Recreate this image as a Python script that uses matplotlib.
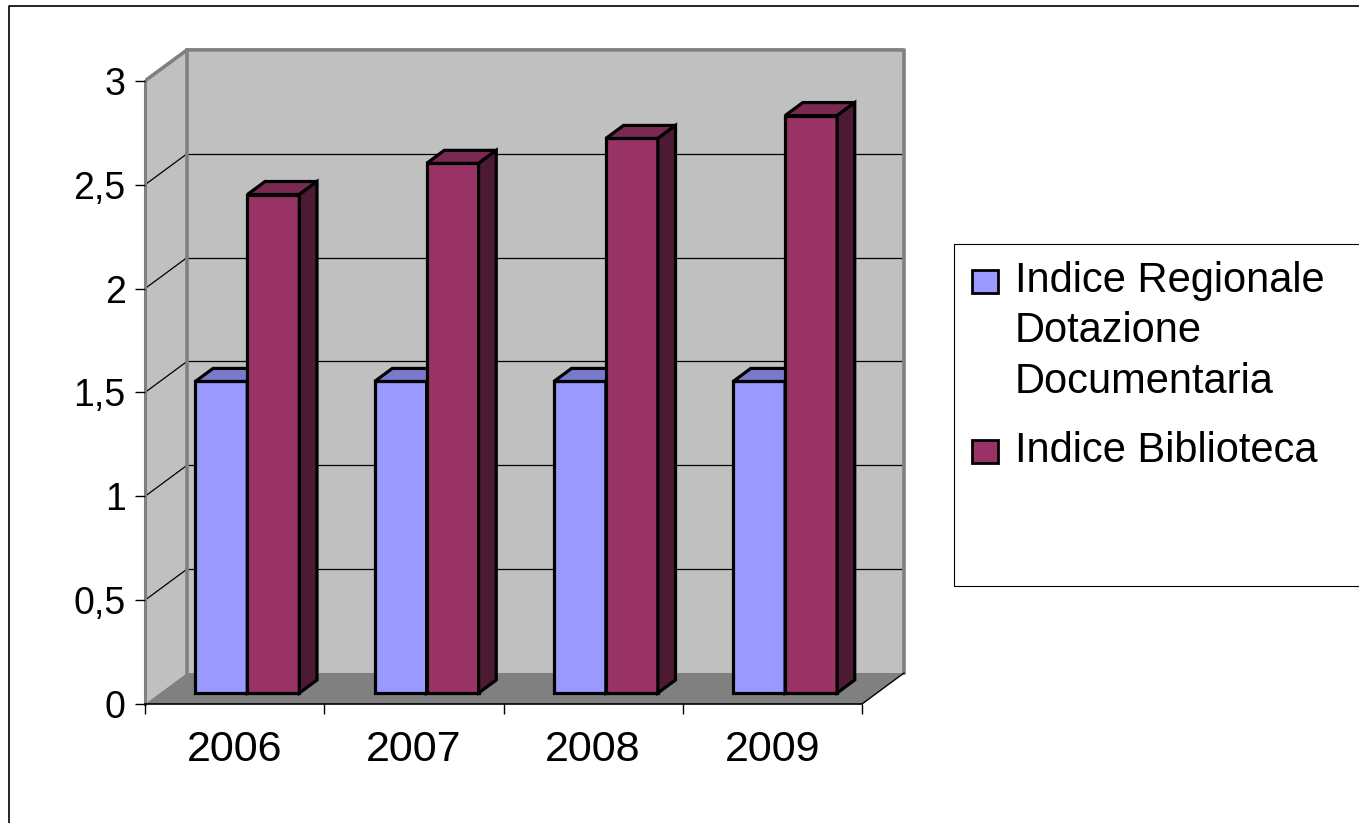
import matplotlib
matplotlib.use("Agg")
import matplotlib.pyplot as plt
from matplotlib.patches import Polygon, Rectangle
from matplotlib.ticker import FuncFormatter, FixedLocator
from matplotlib.lines import Line2D

plt.rcParams['font.family'] = ['Liberation Sans', 'DejaVu Sans']

years = ['2006', '2007', '2008', '2009']
indice_regionale = [1.5, 1.5, 1.5, 1.5]
indice_biblioteca = [2.40, 2.55, 2.67, 2.78]
series_names = ['Indice Regionale\nDotazione\nDocumentaria', 'Indice Biblioteca']
y_ticks = [0, 0.5, 1, 1.5, 2, 2.5, 3]

W, H = 1359, 823
fig = plt.figure(figsize=(W / 100, H / 100), dpi=100)

PX_X = 179.25   # px per category
PX_Y = 207.7    # px per value unit
XMAX, YMAX = 4.35, 3.25
ax = fig.add_axes([145 / W, (H - 704) / H, XMAX * PX_X / W, YMAX * PX_Y / H])
ax.set_xlim(0, XMAX)
ax.set_ylim(0, YMAX)

DX = 42 / PX_X
DY = 31 / PX_Y
ncat = len(years)
ytop = y_ticks[-1]

wall_c = '#c0c0c0'
floor_c = '#808080'
edge_gray = '#808080'

# walls
ax.add_patch(Polygon([(0, 0), (DX, DY), (DX, ytop + DY), (0, ytop)], closed=True,
                     facecolor=wall_c, edgecolor='none', zorder=0))
ax.add_patch(Polygon([(DX, DY), (ncat + DX, DY), (ncat + DX, ytop + DY), (DX, ytop + DY)],
                     closed=True, facecolor=wall_c, edgecolor='none', zorder=0))
# gridlines
for v in y_ticks[1:-1]:
    ax.plot([0, DX], [v, v + DY], color='black', lw=0.9, zorder=1)
    ax.plot([DX, ncat + DX], [v + DY, v + DY], color='black', lw=0.9, zorder=1)
# floor
ax.add_patch(Polygon([(0, 0), (ncat, 0), (ncat + DX, DY), (DX, DY)], closed=True,
                     facecolor=floor_c, edgecolor='none', zorder=1))
ax.plot([ncat, ncat + DX], [0, DY], color='black', lw=1.0, zorder=1.5)
# wall borders
ax.plot([0, DX, ncat + DX, ncat + DX], [ytop, ytop + DY, ytop + DY, DY],
        color=edge_gray, lw=2.6, zorder=1.2, solid_capstyle='projecting')
ax.plot([DX, DX], [DY, ytop + DY], color=edge_gray, lw=2.6, zorder=1.2)

# bars
colors = [('#9999ff', '#7a7acc', '#4d4d80'), ('#993366', '#7a2952', '#4d1a33')]
f1, f2 = 0.355, 0.775
bw = 0.29
shift = -0.012
series = [indice_regionale, indice_biblioteca]
for i in range(ncat):
    for s, vals in enumerate(series):
        v = vals[i]
        fc, tc, sc = colors[s]
        x0 = i + 0.5 - bw + s * bw + f1 * DX + shift
        y0 = f1 * DY
        ddx = (f2 - f1) * DX
        ddy = (f2 - f1) * DY
        z = 3 + i * 2 + s
        ax.bar(x0, v, width=bw, bottom=y0, align='edge', color=fc,
               edgecolor='black', linewidth=2.3, zorder=z)
        ax.add_patch(Polygon([(x0, y0 + v), (x0 + ddx, y0 + v + ddy),
                              (x0 + bw + ddx, y0 + v + ddy), (x0 + bw, y0 + v)],
                             closed=True, facecolor=tc, edgecolor='black', lw=2.3,
                             joinstyle='miter', zorder=z))
        ax.add_patch(Polygon([(x0 + bw, y0), (x0 + bw + ddx, y0 + ddy),
                              (x0 + bw + ddx, y0 + v + ddy), (x0 + bw, y0 + v)],
                             closed=True, facecolor=sc, edgecolor='black', lw=2.3,
                             joinstyle='miter', zorder=z))

# axes
for sp in ['top', 'right']:
    ax.spines[sp].set_visible(False)
ax.spines['left'].set_bounds(0, ytop)
ax.spines['left'].set_color(edge_gray)
ax.spines['left'].set_linewidth(2.2)
ax.spines['left'].set_zorder(1.3)
ax.spines['bottom'].set_bounds(0, ncat)
ax.spines['bottom'].set_color('black')
ax.spines['bottom'].set_linewidth(1.2)
ax.spines['bottom'].set_zorder(2)
ax.patch.set_visible(False)

ax.yaxis.set_major_locator(FixedLocator(y_ticks))
ax.yaxis.set_major_formatter(FuncFormatter(lambda v, _: f"{v:g}".replace('.', ',')))
ax.tick_params(axis='y', length=7, width=1.0, color='black', pad=7, labelsize=27)

ax.set_xticks([i + 0.5 for i in range(ncat)])
ax.set_xticklabels(years)
ax.set_xticks(list(range(ncat + 1)), minor=True)
ax.tick_params(axis='x', which='major', length=0, pad=19, labelsize=31)
ax.tick_params(axis='x', which='minor', length=7, width=1.0, color='black')

# legend (box, keys and labels)
fig.patches.append(Rectangle((954 / W, 1 - 586 / H), 500 / W, (586 - 244) / H,
                             transform=fig.transFigure, facecolor='white',
                             edgecolor='black', lw=0.8, zorder=0))
first_baselines = [292, 462]
line_gap = 50.5
for s, name in enumerate(series_names):
    b = first_baselines[s]
    fig.patches.append(Rectangle((972 / W, 1 - (b + 1) / H), 26 / W, 23 / H,
                                 transform=fig.transFigure, facecolor=colors[s][0],
                                 edgecolor='black', lw=2.0, zorder=2))
    for j, line in enumerate(name.split('\n')):
        fig.text(1015 / W, 1 - (b + j * line_gap) / H, line, fontsize=30,
                 va='baseline', ha='left', color='black')

# outer border
fig.add_artist(Line2D([9 / W, 9 / W, 1.01], [-0.01, 1 - 6 / H, 1 - 6 / H],
                      transform=fig.transFigure, color='black', lw=1.2))

fig.savefig('out.png', dpi=100)
